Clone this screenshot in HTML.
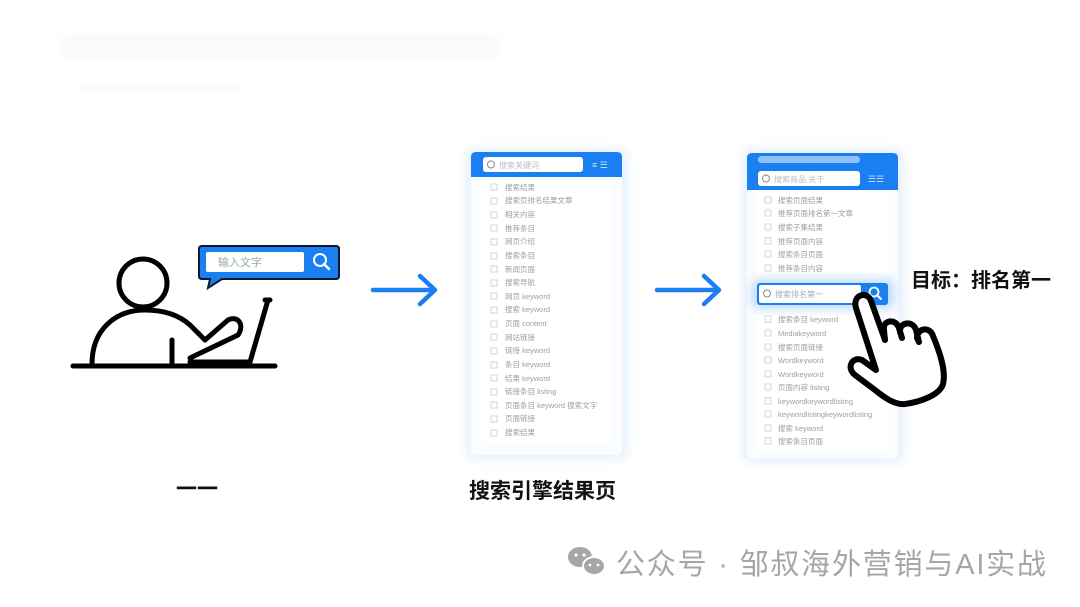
<!DOCTYPE html>
<html><head><meta charset="utf-8"><style>
html,body{margin:0;padding:0;background:#fff;}
body{width:1080px;height:607px;overflow:hidden;position:relative;font-family:"Liberation Sans","Noto Sans CJK SC",sans-serif;}
</style></head><body>
<svg width="1080" height="607" viewBox="0 0 1080 607" xmlns="http://www.w3.org/2000/svg" style="position:absolute;left:0;top:0">
<defs>
<filter id="bl" x="-20%" y="-20%" width="140%" height="140%"><feGaussianBlur stdDeviation="5"/></filter>
</defs>
<rect width="1080" height="607" fill="#fff"/>
<rect x="60" y="35" width="440" height="22" fill="#f8f9fa" filter="url(#bl)"/>
<rect x="80" y="85" width="160" height="6" fill="#f3f7fd" filter="url(#bl)"/>

<!-- person -->
<g fill="none" stroke="#000" stroke-width="5" stroke-linejoin="round" stroke-linecap="round">
<circle cx="143" cy="283" r="24"/>
<path d="M92 364 C92 330 115 310 145 310 C165 310 180 316 190 325 L205 340 L228 320 C238 315 245 325 238 335 L190 358"/>
<path d="M172 340 L172 364"/>
<path d="M268 300 L250 362 L190 362"/>
<path d="M265 300 L270 300"/>
</g>
<line x1="73" y1="366" x2="275" y2="366" stroke="#000" stroke-width="5" stroke-linecap="round"/>
<path d="M202 246 H336 Q339 246 339 249 V276 Q339 279 336 279 H222 L208 288 L210 279 H202 Q199 279 199 276 V249 Q199 246 202 246 Z" fill="#1a7ff0" stroke="#0b1830" stroke-width="2"/>
<rect x="206" y="252" width="98" height="20" rx="2" fill="#fff"/>
<text x="218" y="266" font-size="11" fill="#9aa">输入文字</text>
<circle cx="320" cy="260" r="6" fill="none" stroke="#fff" stroke-width="2"/>
<line x1="324" y1="264" x2="329" y2="269" stroke="#fff" stroke-width="2.5" stroke-linecap="round"/>

<g stroke="#1a7ff0" stroke-width="4.5" fill="none" stroke-linecap="round" stroke-linejoin="round">
<line x1="373" y1="290" x2="434" y2="290"/><path d="M420 276 L435 290 L420 304"/>
<line x1="657" y1="290" x2="718" y2="290"/><path d="M704 276 L719 290 L704 304"/>
</g>

<!-- panel 1 -->
<rect x="466" y="148" width="162" height="312" rx="8" fill="#e8f1fc" filter="url(#bl)"/>
<rect x="471" y="152" width="151" height="303" rx="5" fill="#fbfcfe"/>
<path d="M471 157 Q471 152 476 152 H617 Q622 152 622 157 V177 H471 Z" fill="#1a7ff0"/>
<rect x="483" y="157" width="100" height="15" rx="3" fill="#fff"/>
<circle cx="491" cy="164.5" r="3.5" fill="none" stroke="#889" stroke-width="1"/>
<text x="499" y="168" font-size="8" fill="#bbc">搜索关键词</text>
<text x="592" y="168" font-size="9" fill="#cfe2fb">≡ ☰</text>
<rect x="481" y="180" width="131" height="262" fill="#fff"/>
<g font-size="7.5" fill="#9aa0a8">
<text x="505" y="190">搜索结果</text><text x="505" y="203">搜索页排名结果文章</text><text x="505" y="217">相关内容</text><text x="505" y="231">推荐条目</text><text x="505" y="244">网页介绍</text><text x="505" y="258">搜索条目</text><text x="505" y="272">新闻页面</text><text x="505" y="285">搜索导航</text><text x="505" y="299">网页 keyword</text><text x="505" y="312">搜索 keyword</text><text x="505" y="326">页面 content</text><text x="505" y="340">网站链接</text><text x="505" y="353">链接 keyword</text><text x="505" y="367">条目 keyword</text><text x="505" y="381">结果 keyword</text><text x="505" y="394">链接条目 listing</text><text x="505" y="408">页面条目 keyword 搜索文字</text><text x="505" y="421">页面链接</text><text x="505" y="435">搜索结果</text>
</g>
<g fill="none" stroke="#c8ccd2" stroke-width="0.8">
<rect x="491" y="184" width="6" height="6"/><rect x="491" y="198" width="6" height="6"/><rect x="491" y="212" width="6" height="6"/><rect x="491" y="225" width="6" height="6"/><rect x="491" y="239" width="6" height="6"/><rect x="491" y="253" width="6" height="6"/><rect x="491" y="266" width="6" height="6"/><rect x="491" y="280" width="6" height="6"/><rect x="491" y="293" width="6" height="6"/><rect x="491" y="307" width="6" height="6"/><rect x="491" y="321" width="6" height="6"/><rect x="491" y="334" width="6" height="6"/><rect x="491" y="348" width="6" height="6"/><rect x="491" y="362" width="6" height="6"/><rect x="491" y="375" width="6" height="6"/><rect x="491" y="389" width="6" height="6"/><rect x="491" y="402" width="6" height="6"/><rect x="491" y="416" width="6" height="6"/><rect x="491" y="430" width="6" height="6"/>
</g>

<!-- panel 2 -->
<rect x="742" y="148" width="162" height="315" rx="8" fill="#e8f1fc" filter="url(#bl)"/>
<rect x="747" y="153" width="151" height="305" rx="5" fill="#fbfcfe"/>
<path d="M747 158 Q747 153 752 153 H893 Q898 153 898 158 V190 H747 Z" fill="#1a7ff0"/>
<rect x="758" y="156" width="102" height="7" rx="3" fill="#8fc0f6"/>
<rect x="758" y="171" width="102" height="15" rx="3" fill="#fff"/>
<circle cx="766" cy="178.5" r="3.5" fill="none" stroke="#889" stroke-width="1"/>
<text x="774" y="182" font-size="8" fill="#bbc">搜索商品 关于</text>
<text x="868" y="182" font-size="9" fill="#cfe2fb">☰☰</text>
<rect x="757" y="192" width="131" height="258" fill="#fff"/>
<g font-size="7.5" fill="#9aa0a8">
<text x="778" y="203">搜索页面结果</text><text x="778" y="216">推荐页面排名第一文章</text><text x="778" y="230">搜索子集结果</text><text x="778" y="244">推荐页面内容</text><text x="778" y="257">搜索条目页面</text><text x="778" y="271">推荐条目内容</text>
<text x="778" y="322">搜索条目 keyword</text><text x="778" y="336">Mediakeyword</text><text x="778" y="350">搜索页面链接</text><text x="778" y="363">Wordkeyword</text><text x="778" y="377">Wordkeyword</text><text x="778" y="390">页面内容 listing</text><text x="778" y="404">keywordkeywordlisting</text><text x="778" y="417">keywordlistingkeywordlisting</text><text x="778" y="431">搜索 keyword</text><text x="778" y="444">搜索条目页面</text>
</g>
<g fill="none" stroke="#c8ccd2" stroke-width="0.8">
<rect x="765" y="197" width="6" height="6"/><rect x="765" y="210" width="6" height="6"/><rect x="765" y="224" width="6" height="6"/><rect x="765" y="238" width="6" height="6"/><rect x="765" y="251" width="6" height="6"/><rect x="765" y="265" width="6" height="6"/>
<rect x="765" y="316" width="6" height="6"/><rect x="765" y="330" width="6" height="6"/><rect x="765" y="344" width="6" height="6"/><rect x="765" y="357" width="6" height="6"/><rect x="765" y="371" width="6" height="6"/><rect x="765" y="384" width="6" height="6"/><rect x="765" y="398" width="6" height="6"/><rect x="765" y="411" width="6" height="6"/><rect x="765" y="425" width="6" height="6"/><rect x="765" y="438" width="6" height="6"/>
</g>
<rect x="752" y="279" width="142" height="30" rx="6" fill="#bcdcfb" filter="url(#bl)"/>
<rect x="757" y="283" width="131" height="22" rx="3" fill="#1a7ff0"/>
<rect x="759" y="285" width="102" height="18" rx="2" fill="#fff"/>
<circle cx="767" cy="293.5" r="3.5" fill="none" stroke="#889" stroke-width="1"/>
<text x="775" y="297" font-size="8" fill="#aab">搜索排名第一</text>
<circle cx="874" cy="292" r="4.5" fill="none" stroke="#fff" stroke-width="1.8"/>
<line x1="877" y1="295" x2="881" y2="299" stroke="#fff" stroke-width="2" stroke-linecap="round"/>

<!-- hand -->
<path d="M856 308 C852 295 867 290 871 301 L885 340 L884 330 C882 320 896 318 899 328 L902 338 L900 332 C899 322 913 320 916 330 L919 342 L917 338 C917 328 930 326 933 336 C941 355 946 372 943 384 C940 395 920 402 905 404 C895 405 885 398 875 390 L855 375 C846 368 852 356 862 360 L876 370 Z" fill="#fff" stroke="#000" stroke-width="6" stroke-linejoin="round"/>

<text x="911" y="287" font-size="20" font-weight="bold" fill="#111">目标：排名第一</text>
<text x="176" y="496" font-size="21" font-weight="bold" fill="#111">一一</text>
<text x="469" y="498" font-size="21" font-weight="bold" fill="#111">搜索引擎结果页</text>

<g fill="#a6a6a6">
<ellipse cx="580" cy="557" rx="12" ry="10"/><ellipse cx="594" cy="566" rx="11" ry="9" stroke="#fff" stroke-width="2"/>
</g>
<circle cx="576" cy="555" r="1.6" fill="#fff"/><circle cx="584" cy="555" r="1.6" fill="#fff"/>
<circle cx="590" cy="565" r="1.4" fill="#fff"/><circle cx="598" cy="565" r="1.4" fill="#fff"/>
<text x="616" y="574" font-size="29" fill="#a6a6a6" textLength="430" lengthAdjust="spacing">公众号 · 邹叔海外营销与AI实战</text>
</svg>
</body></html>
